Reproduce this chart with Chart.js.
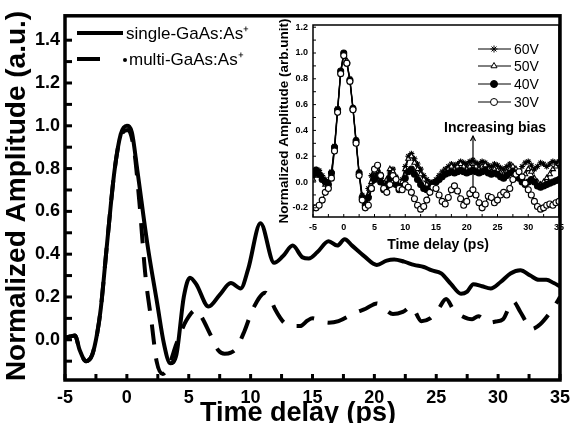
<!DOCTYPE html>
<html><head><meta charset="utf-8">
<script src="https://cdn.jsdelivr.net/npm/chart.js@4/dist/chart.umd.min.js"></script>
<style>
html,body{margin:0;padding:0;background:#fff;}
#wrap{position:relative;width:577px;height:423px;overflow:hidden;background:#fff;}
#main{position:absolute;left:0;top:0;}
#inset{position:absolute;left:262px;top:12px;}
</style></head><body>
<div id="wrap">
<canvas id="main" width="577" height="423"></canvas>
<canvas id="inset" width="310" height="253"></canvas>
</div>
<script>
// ---------- Main chart data ----------
const singleX = [-5,-4.6,-4.2,-3.8,-3.3,-2.8,-2.4,-2.1,-1.6,-1.0,-0.5,0,0.4,0.85,1.65,2.45,3.0,3.5,4.0,4.6,5.1,5.6,6.6,7.5,8.4,9.2,9.8,10.8,11.9,12.6,13.4,14.2,14.7,15.4,16.3,17.0,17.6,18.2,19.2,20.2,21.0,21.6,22.4,23.2,24.0,24.6,25.4,26.2,27.0,27.5,28.0,28.7,29.4,30.2,31.0,31.8,32.6,33.3,33.9,34.5,35];
const singleY = [0.01,0.015,0.02,-0.05,-0.1,-0.07,0.03,0.15,0.45,0.79,0.96,1.0,0.97,0.79,0.45,0.17,-0.02,-0.11,-0.07,0.2,0.29,0.26,0.155,0.21,0.265,0.24,0.33,0.545,0.36,0.39,0.44,0.385,0.38,0.41,0.46,0.44,0.47,0.44,0.39,0.35,0.37,0.375,0.365,0.35,0.34,0.325,0.31,0.26,0.215,0.225,0.26,0.25,0.24,0.27,0.31,0.325,0.3,0.28,0.28,0.265,0.25];
const multiX = [-5,-4.6,-4.2,-3.8,-3.3,-2.8,-2.4,-2.1,-1.6,-1.0,-0.5,0.1,0.6,1.0,1.5,2.0,2.4,2.9,3.4,4.0,4.8,5.6,6.1,6.7,7.4,7.9,8.4,8.84,9.5,10.2,11.2,11.6,12.0,12.7,13.3,14.0,14.6,15.0,15.6,16.3,17.1,18.4,19.3,20.2,20.9,21.5,22.3,23.0,23.8,24.5,25.2,25.8,26.4,27.1,27.9,28.4,29.2,29.8,30.4,31.2,31.8,32.3,32.7,33.4,34.1,34.8,35];
const multiY = [0.01,0.015,0.02,-0.05,-0.1,-0.07,0.03,0.15,0.45,0.79,0.95,0.98,0.88,0.65,0.3,0.08,-0.1,-0.16,-0.12,-0.02,0.09,0.14,0.1,0.03,-0.05,-0.065,-0.06,-0.04,0.04,0.146,0.22,0.19,0.14,0.08,0.065,0.064,0.09,0.1,0.09,0.08,0.087,0.125,0.145,0.17,0.14,0.12,0.13,0.155,0.087,0.1,0.146,0.19,0.14,0.11,0.096,0.11,0.08,0.085,0.096,0.18,0.13,0.08,0.05,0.073,0.12,0.18,0.2];
const mainXLabels = [-5,0,5,10,15,20,25,30,35];
const mainXMinor = [-2.5,2.5,7.5,12.5,17.5,22.5,27.5,32.5];
const mainYLabels = [0,0.2,0.4,0.6,0.8,1.0,1.2,1.4];
const mainYMinor = [-0.1,0.1,0.3,0.5,0.7,0.9,1.1,1.3];
const mainLegend = ['single-GaAs:As\u207A','multi-GaAs:As\u207A'];

// ---------- Inset data ----------
const insetX = [-5,-4.5,-4,-3.5,-3,-2.5,-2,-1.5,-1,-0.5,0,0.5,1,1.5,2,2.5,3,3.5,4,4.5,5,5.5,6,6.5,7,7.5,8,8.5,9,9.5,10,10.5,11,11.5,12,12.5,13,13.5,14,14.5,15,15.5,16,16.5,17,17.5,18,18.5,19,19.5,20,20.5,21,21.5,22,22.5,23,23.5,24,24.5,25,25.5,26,26.5,27,27.5,28,28.5,29,29.5,30,30.5,31,31.5,32,32.5,33,33.5,34,34.5,35];
const v60 = [0.08,0.10,0.09,0.05,0.02,
  0.00,0.08,0.28,0.57,0.86,1.00,0.93,0.80,0.58,0.33,0.08,-0.10,-0.15,
  -0.05,0.05,0.10,0.12,0.06,-0.02,0.00,0.07,0.10,0.04,
  -0.03,0.02,0.12,0.20,0.22,0.18,0.14,0.10,0.05,0.02,
  0.00,0.00,0.02,0.05,0.08,0.10,0.12,0.14,0.13,0.14,
  0.16,0.15,0.14,0.16,0.17,0.15,0.14,0.16,0.15,0.13,
  0.12,0.14,0.13,0.11,0.10,0.12,0.14,0.11,0.07,0.08,
  0.12,0.15,0.16,0.13,0.10,0.12,0.15,0.14,0.12,0.14,
  0.16,0.15,0.16];
const v50 = [0.02,0.05,0.07,0.03,-0.02,
  -0.03,0.06,0.27,0.56,0.85,0.99,0.94,0.79,0.57,0.32,0.07,-0.12,-0.17,
  -0.10,0.00,0.08,0.10,0.04,-0.04,0.02,0.10,0.08,0.00,
  -0.05,0.00,0.10,0.18,0.20,0.15,0.10,0.06,0.02,-0.02,
  -0.04,-0.02,0.00,0.04,0.06,0.08,0.10,0.12,0.10,0.12,
  0.14,0.12,0.10,0.12,0.14,0.12,0.10,0.12,0.13,0.10,
  0.08,0.10,0.09,0.07,0.06,0.08,0.10,0.12,0.10,0.06,
  0.03,0.06,0.10,0.08,0.03,0.00,-0.02,0.00,0.03,0.06,
  0.10,0.12,0.14];
const v40 = [0.06,0.09,0.06,0.02,0.00,
  -0.02,0.07,0.27,0.56,0.86,1.00,0.92,0.79,0.57,0.32,0.07,-0.12,-0.18,
  -0.12,-0.05,0.02,0.05,0.00,-0.06,-0.03,0.03,0.04,-0.02,
  -0.06,-0.04,0.03,0.08,0.10,0.06,0.02,-0.02,-0.05,-0.06,
  -0.05,-0.02,0.00,0.02,0.04,0.06,0.07,0.08,0.07,0.08,
  0.09,0.08,0.07,0.08,0.09,0.08,0.07,0.08,0.09,0.07,
  0.06,0.07,0.06,0.04,0.03,0.05,0.07,0.08,0.06,0.03,
  0.00,-0.02,0.00,0.02,0.00,-0.03,-0.04,-0.03,-0.02,-0.01,
  0.00,0.01,0.02];
const v30 = [-0.20,-0.20,-0.18,-0.14,-0.08,
  -0.05,0.03,0.24,0.54,0.84,0.98,0.92,0.78,0.56,0.30,0.05,-0.14,-0.20,
  -0.18,-0.05,0.10,0.13,0.05,-0.05,-0.08,-0.02,0.05,0.02,
  -0.05,-0.06,-0.02,-0.04,-0.08,-0.13,-0.18,-0.21,-0.19,-0.14,
  -0.08,-0.04,-0.05,-0.10,-0.15,-0.17,-0.12,-0.06,-0.03,-0.07,
  -0.13,-0.18,-0.15,-0.09,-0.06,-0.10,-0.16,-0.20,-0.17,-0.11,
  -0.12,-0.16,-0.14,-0.10,-0.08,-0.10,-0.05,0.02,0.06,0.08,
  0.04,-0.01,-0.06,-0.10,-0.15,-0.19,-0.21,-0.20,-0.18,-0.17,
  -0.18,-0.16,-0.15];
const insetLabels = ['60V','50V','40V','30V'];
const insetStyles = ['star','triangle','circle','circle'];
const insetFills = ['#000','#fff','#000','#fff'];
const insetXLabels = [-5,0,5,10,15,20,25,30,35];
const insetXMinor = [-2.5,2.5,7.5,12.5,17.5,22.5,27.5,32.5];
const insetYLabels = [-0.2,0,0.2,0.4,0.6,0.8,1.0,1.2];
const insetYMinor = [-0.1,0.1,0.3,0.5,0.7,0.9,1.1];

const FONT = '"Liberation Sans", Arial, Helvetica, sans-serif';
const pts = (xs, ys) => xs.map((x, i) => ({x, y: ys[i]}));

// ---------- Main chart ----------
const mainDeco = {
  id: 'mainDeco',
  afterDraw(chart) {
    const {ctx, chartArea: a, scales: {x, y}} = chart;
    ctx.save();
    ctx.strokeStyle = '#000';
    ctx.lineWidth = 3.5;
    ctx.strokeRect(a.left, a.top, a.right - a.left, a.bottom - a.top);
    ctx.lineWidth = 3;
    mainXLabels.concat(mainXMinor).forEach(v => {
      const p = x.getPixelForValue(v);
      ctx.beginPath(); ctx.moveTo(p, a.bottom); ctx.lineTo(p, a.bottom - 6); ctx.stroke();
    });
    mainYLabels.concat(mainYMinor).forEach(v => {
      const p = y.getPixelForValue(v);
      ctx.beginPath(); ctx.moveTo(a.left, p); ctx.lineTo(a.left + 7, p); ctx.stroke();
    });
    // legend
    ctx.lineWidth = 4;
    ctx.beginPath(); ctx.moveTo(77, 33); ctx.lineTo(123, 33); ctx.stroke();
    ctx.beginPath(); ctx.moveTo(77, 59); ctx.lineTo(100, 59); ctx.stroke();
    ctx.fillStyle = '#000';
    ctx.beginPath(); ctx.arc(125, 60, 2, 0, Math.PI * 2); ctx.fill();
    ctx.font = '17px ' + FONT;
    ctx.textBaseline = 'middle';
    ctx.textAlign = 'left';
    ctx.fillText(mainLegend[0], 126, 34);
    ctx.fillText(mainLegend[1], 129, 60);
    // axis titles
    ctx.font = 'bold 27px ' + FONT;
    ctx.textAlign = 'center';
    ctx.textBaseline = 'alphabetic';
    ctx.fillText('Time delay (ps)', 298, 421);
    ctx.save();
    ctx.translate(25, 196);
    ctx.rotate(-Math.PI / 2);
    ctx.font = 'bold 28px ' + FONT;
    ctx.fillText('Normalized Amplitude (a.u.)', 0, 0);
    ctx.restore();
    ctx.restore();
  }
};

new Chart(document.getElementById('main'), {
  type: 'line',
  data: {
    datasets: [
      {label: mainLegend[0], data: pts(singleX, singleY), borderColor: '#000', borderWidth: 4, pointRadius: 0, cubicInterpolationMode: 'monotone', fill: false},
      {label: mainLegend[1], data: pts(multiX, multiY), borderColor: '#000', borderWidth: 4, borderDash: [20, 14], pointRadius: 0, cubicInterpolationMode: 'monotone', fill: false}
    ]
  },
  options: {
    responsive: false, animation: false, devicePixelRatio: 1,
    layout: {padding: {top: 8, right: 10, left: 0, bottom: 0}},
    plugins: {legend: {display: false}, tooltip: {enabled: false}},
    scales: {
      x: {
        type: 'linear', min: -5, max: 35,
        afterBuildTicks: s => { s.ticks = mainXLabels.map(v => ({value: v})); },
        afterFit: s => { s.height = 43; },
        grid: {display: false, drawTicks: false}, border: {display: false},
        ticks: {color: '#000', font: {family: FONT, size: 18, weight: 'bold'}, padding: 7, maxRotation: 0, autoSkip: false, callback: v => String(v)}
      },
      y: {
        type: 'linear', min: -0.188, max: 1.514,
        afterBuildTicks: s => { s.ticks = mainYLabels.map(v => ({value: v})); },
        afterFit: s => { s.width = 65; },
        grid: {display: false, drawTicks: false}, border: {display: false},
        ticks: {color: '#000', font: {family: FONT, size: 18, weight: 'bold'}, padding: 5, autoSkip: false, callback: v => v.toFixed(1)}
      }
    }
  },
  plugins: [mainDeco]
});

// ---------- Inset chart ----------
const OX = 262, OY = 12;
const insetDeco = {
  id: 'insetDeco',
  afterDraw(chart) {
    const {ctx, chartArea: a, scales: {x, y}} = chart;
    ctx.save();
    ctx.strokeStyle = '#000';
    ctx.fillStyle = '#000';
    ctx.lineWidth = 1.5;
    ctx.strokeRect(a.left, a.top, a.right - a.left, a.bottom - a.top);
    ctx.lineWidth = 1;
    insetXLabels.concat(insetXMinor).forEach(v => {
      const p = x.getPixelForValue(v);
      ctx.beginPath(); ctx.moveTo(p, a.bottom); ctx.lineTo(p, a.bottom - 3); ctx.stroke();
    });
    insetYLabels.concat(insetYMinor).forEach(v => {
      const p = y.getPixelForValue(v);
      ctx.beginPath(); ctx.moveTo(a.left, p); ctx.lineTo(a.left + 3, p); ctx.stroke();
    });
    // legend
    const ly = [49, 66, 84, 102];
    ctx.font = '14px ' + FONT;
    ctx.textBaseline = 'middle';
    ctx.textAlign = 'left';
    insetLabels.forEach((t, i) => {
      const yy = ly[i] - OY;
      ctx.strokeStyle = '#000'; ctx.lineWidth = 1;
      ctx.beginPath(); ctx.moveTo(478 - OX, yy); ctx.lineTo(511 - OX, yy); ctx.stroke();
      ctx.fillStyle = insetFills[i]; ctx.strokeStyle = '#000';
      Chart.helpers.drawPoint(ctx, {pointStyle: insetStyles[i], radius: 3.5, borderWidth: 1, rotation: 0}, 494 - OX, yy);
      ctx.fillStyle = '#000';
      ctx.fillText(t, 514 - OX, yy + 1);
    });
    // annotation
    ctx.font = 'bold 14px ' + FONT;
    ctx.textAlign = 'center';
    ctx.fillText('Increasing bias', 495 - OX, 128 - OY);
    ctx.lineWidth = 1.2;
    ctx.beginPath(); ctx.moveTo(473 - OX, 188 - OY); ctx.lineTo(473 - OX, 136 - OY); ctx.stroke();
    ctx.beginPath(); ctx.moveTo(470.5 - OX, 141 - OY); ctx.lineTo(473 - OX, 136 - OY); ctx.lineTo(475.5 - OX, 141 - OY); ctx.stroke();
    // axis titles
    ctx.font = 'bold 14px ' + FONT;
    ctx.textBaseline = 'middle';
    ctx.fillText('Time delay (ps)', 438 - OX, 245 - OY);
    ctx.save();
    ctx.translate(284 - OX, 121 - OY);
    ctx.rotate(-Math.PI / 2);
    ctx.font = 'bold 13.5px ' + FONT;
    ctx.fillText('Normalized Amplitude (arb.unit)', 0, 0);
    ctx.restore();
    ctx.restore();
  }
};

const insetSeries = [v60, v50, v40, v30];
new Chart(document.getElementById('inset'), {
  type: 'line',
  data: {
    datasets: insetSeries.map((vals, i) => ({
      label: insetLabels[i],
      data: pts(insetX, vals),
      borderColor: '#000', borderWidth: 1.2,
      pointStyle: insetStyles[i], pointRadius: 3,
      pointBackgroundColor: insetFills[i], pointBorderColor: '#000', pointBorderWidth: 1.1,
      tension: 0, fill: false
    })).reverse()
  },
  options: {
    responsive: false, animation: false, devicePixelRatio: 1,
    layout: {padding: {top: 13, right: 13, left: 0, bottom: 0}},
    plugins: {legend: {display: false}, tooltip: {enabled: false}},
    scales: {
      x: {
        type: 'linear', min: -5, max: 35,
        afterBuildTicks: s => { s.ticks = insetXLabels.map(v => ({value: v})); },
        afterFit: s => { s.height = 48; },
        grid: {display: false, drawTicks: false}, border: {display: false},
        ticks: {color: '#000', font: {family: FONT, size: 9, weight: 'bold'}, padding: 5, maxRotation: 0, autoSkip: false, callback: v => String(v)}
      },
      y: {
        type: 'linear', min: -0.271, max: 1.217,
        afterBuildTicks: s => { s.ticks = insetYLabels.map(v => ({value: v})); },
        afterFit: s => { s.width = 51; },
        grid: {display: false, drawTicks: false}, border: {display: false},
        ticks: {color: '#000', font: {family: FONT, size: 9, weight: 'bold'}, padding: 5, autoSkip: false, callback: v => v.toFixed(1)}
      }
    }
  },
  plugins: [insetDeco]
});
</script>
</body></html>
